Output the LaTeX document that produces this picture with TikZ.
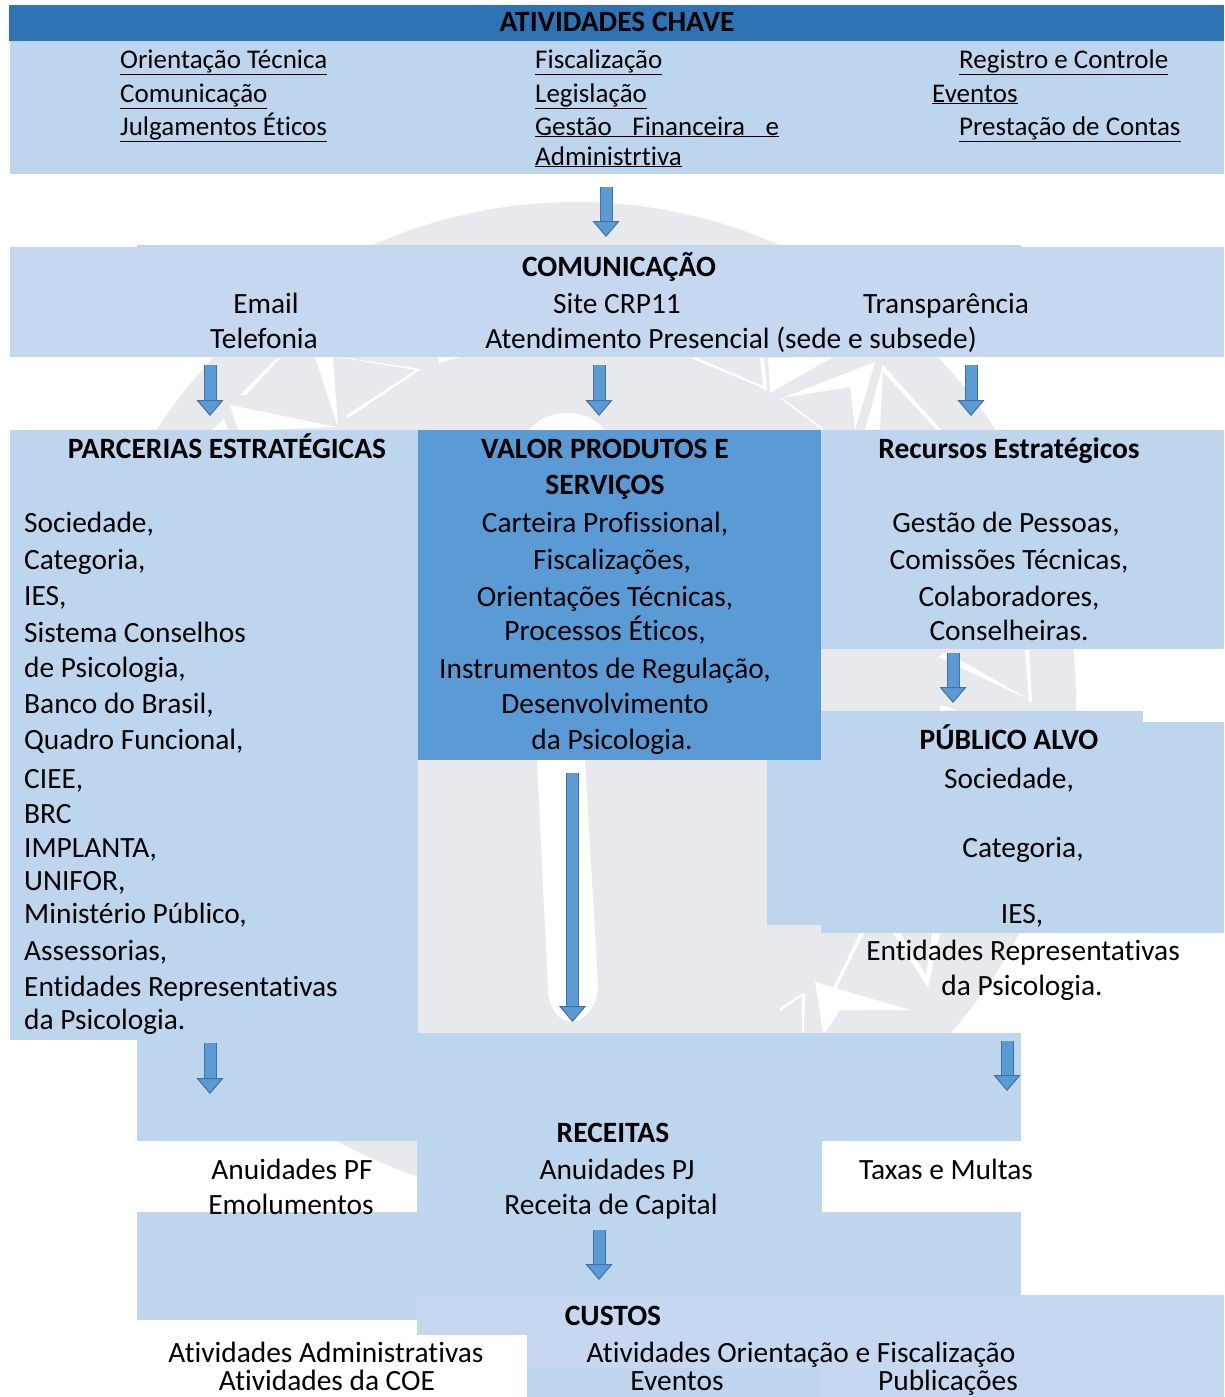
\documentclass[tikz,border=0pt]{standalone}
\usepackage{fontspec}
\setmainfont[Ligatures=NoCommon]{Carlito}
\usetikzlibrary{arrows.meta}
\definecolor{headblue}{HTML}{2E74B5}
\definecolor{paleblue}{HTML}{BDD6EE}
\definecolor{softblue}{HTML}{C5D8F0}
\definecolor{midblue}{HTML}{5B9BD5}
\definecolor{edgeblue}{HTML}{41719C}
\definecolor{markgray}{HTML}{E7E9ED}
\tikzset{
    txt/.style={anchor=base west, inner sep=0pt, font=\fontsize{29.4}{33}\selectfont},
    mid/.style={anchor=base, inner sep=0pt, font=\fontsize{29.4}{33}\selectfont},
    ttl/.style={anchor=base, inner sep=0pt, font=\fontsize{29.5}{33}\selectfont\bfseries},
    lst/.style={anchor=base west, inner sep=0pt, font=\fontsize{27}{31}\selectfont},
    flow/.style={draw=edgeblue, line width=1pt, double=midblue, double distance=11pt, -{Triangle[width=27pt, length=16pt, fill=midblue, line width=1pt]}},
    gap/.style={fill=white, draw=none}
}
\begin{document}
\begin{tikzpicture}[x=1pt, y=-1pt]
    \useasboundingbox (0,0) rectangle (1224,1397);
    \fill[markgray] (576,702) circle (500);
    \fill[gap] (240,395) -- (277,358) -- (280,358) -- (246,395) -- cycle;
    \fill[gap] (230,405) -- (337,427) -- (260,430) -- (238,430) -- cycle;
    \fill[gap] (315,357) -- (333,357) -- (338,427) -- cycle;
    \fill[gap] (347,415) -- (416,370) -- (337,357) -- (339,357) -- (421,369) -- (348,418) -- cycle;
    \fill[gap] (438,357) -- (439,363) -- (460,357) -- cycle;
    \fill[gap] (212,430) -- (224,419) -- (228,430) -- cycle;
    \fill[gap] (695,357) -- (763,386) -- (760,358) -- (764,358) -- (767,390) -- (691,358) -- cycle;
    \fill[gap] (790,357) -- (792,360) -- (806,357) -- cycle;
    \fill[gap] (770,393) -- (768,358) -- (833,357) -- cycle;
    \fill[gap] (782,398) -- (875,362) -- (855,430) -- (850,387) -- cycle;
    \fill[gap] (782,398) -- (825,430) -- (822,430) -- (780,398) -- cycle;
    \fill[gap] (883,365) -- (880,430) -- (865,430) -- cycle;
    \fill[gap] (883,365) -- (941,430) -- (937,430) -- (881,370) -- cycle;
    \fill[gap] (567,450) ellipse (45 and 37);
    \fill[gap] (537,760) -- (585,760) -- (598,985) .. controls (598,1010) and (580,1022) .. (572,1022) .. controls (560,1022) and (549,1010) .. (548,990) -- cycle;
    \fill[gap] (938,657) -- (946,652) -- (1030,700) -- cycle;
    \fill[gap] (1025,650) -- (1029,650) -- (1032,702) -- (1029,702) -- cycle;
    \fill[gap] (940,705) -- (957,710) -- (940,711) -- cycle;
    \fill[gap] (823,1009) -- (860,933) -- (864,933) -- (826,1009) -- cycle;
    \fill[gap] (815,982) -- (910,1010) -- (840,1010) -- (825,1033) -- (823,1033) -- cycle;
    \fill[gap] (780,1008) -- (805,992) -- (804,1033) -- (802,1033) -- (802,996) -- (780,1011) -- cycle;
    \fill[gap] (893,933) -- (928,988) -- (940,933) -- (932,933) -- (926,975) -- (900,933) -- cycle;
    \fill[paleblue] (10,41) rectangle (1224,174);
    \fill[headblue] (9,5) rectangle (1224,41);
    \fill[paleblue] (137,245) rectangle (1021,248);
    \fill[softblue] (10,247) rectangle (1224,357);
    \fill[paleblue] (10,430) rectangle (418,1040);
    \fill[paleblue] (821,430) rectangle (1224,649);
    \fill[paleblue] (767,760) rectangle (821,925);
    \fill[paleblue] (821,711) rectangle (1143,722);
    \fill[paleblue] (821,722) rectangle (1224,933);
    \fill[midblue] (418,430) rectangle (821,760);
    \fill[paleblue] (137,1033) rectangle (1021,1141);
    \fill[paleblue] (417,1141) rectangle (822,1212);
    \fill[paleblue] (137,1212) rectangle (1021,1320);
    \fill[softblue] (417,1295) rectangle (1224,1335);
    \fill[softblue] (527,1335) rectangle (1224,1397);
    \fill[paleblue] (527,1368) rectangle (820,1397);
    \node[ttl] (atv) at (617,32) {ATIVIDADES CHAVE};
    \node[lst] (ori) at (120,68) {\underline{Orientação Técnica}};
    \node[lst] (com) at (120,102) {\underline{Comunicação}};
    \node[lst] (jul) at (120,135) {\underline{Julgamentos Éticos}};
    \node[lst] (fis) at (535,68) {\underline{Fiscalização}};
    \node[lst] (leg) at (535,102) {\underline{Legislação}};
    \node[lst] (ges) at (535,135) {\underline{\makebox[244pt][s]{Gestão\hfill Financeira\hfill e}}};
    \node[lst] (adm) at (535,165) {\underline{Administrtiva}};
    \node[lst] (reg) at (959,68) {\underline{Registro e Controle}};
    \node[lst] (evt) at (932,102) {\underline{Eventos}};
    \node[lst] (pre) at (959,135) {\underline{Prestação de Contas}};
    \node[ttl] (cmn) at (619,276) {COMUNICAÇÃO};
    \node[mid] (eml) at (266,313) {Email};
    \node[mid] (sit) at (617,313) {Site CRP11};
    \node[mid] (tra) at (946,313) {Transparência};
    \node[mid] (tel) at (264,348) {Telefonia};
    \node[mid] (ate) at (731,348) {Atendimento Presencial (sede e subsede)};
    \node[ttl] (par) at (227,458) {PARCERIAS ESTRATÉGICAS};
    \node[txt] (soc) at (24,532) {Sociedade,};
    \node[txt] (cat) at (24,569) {Categoria,};
    \node[txt] (ies) at (24,605) {IES,};
    \node[txt] (sis) at (24,642) {Sistema Conselhos};
    \node[txt] (dep) at (24,677) {de Psicologia,};
    \node[txt] (ban) at (24,713) {Banco do Brasil,};
    \node[txt] (qua) at (24,749) {Quadro Funcional,};
    \node[txt] (cie) at (24,788) {CIEE,};
    \node[txt] (brc) at (24,823) {BRC};
    \node[txt] (imp) at (24,857) {IMPLANTA,};
    \node[txt] (uni) at (24,890) {UNIFOR,};
    \node[txt] (min) at (24,923) {Ministério Público,};
    \node[txt] (ass) at (24,960) {Assessorias,};
    \node[txt] (ent) at (24,996) {Entidades Representativas};
    \node[txt] (dap) at (24,1029) {da Psicologia.};
    \node[ttl] (val) at (605,458) {VALOR PRODUTOS E};
    \node[ttl] (ser) at (605,494) {SERVIÇOS};
    \node[mid] (car) at (605,532) {Carteira Profissional,};
    \node[mid] (fic) at (612,569) {Fiscalizações,};
    \node[mid] (ort) at (605,606) {Orientações Técnicas,};
    \node[mid] (pro) at (605,640) {Processos Éticos,};
    \node[mid] (ins) at (605,678) {Instrumentos de Regulação,};
    \node[mid] (des) at (605,713) {Desenvolvimento};
    \node[mid] (dav) at (612,749) {da Psicologia.};
    \node[ttl] (rec) at (1009,458) {Recursos Estratégicos};
    \node[mid] (gpe) at (1006,532) {Gestão de Pessoas,};
    \node[mid] (cte) at (1009,569) {Comissões Técnicas,};
    \node[mid] (col) at (1009,606) {Colaboradores,};
    \node[mid] (cns) at (1009,640) {Conselheiras.};
    \node[ttl] (pub) at (1009,749) {PÚBLICO ALVO};
    \node[mid] (psc) at (1009,788) {Sociedade,};
    \node[mid] (pca) at (1023,857) {Categoria,};
    \node[mid] (pie) at (1022,923) {IES,};
    \node[mid] (pen) at (1023,960) {Entidades Representativas};
    \node[mid] (pda) at (1022,995) {da Psicologia.};
    \node[ttl] (rct) at (613,1142) {RECEITAS};
    \node[mid] (apf) at (292,1179) {Anuidades PF};
    \node[mid] (apj) at (617,1179) {Anuidades PJ};
    \node[mid] (tax) at (946,1179) {Taxas e Multas};
    \node[mid] (emo) at (291,1214) {Emolumentos};
    \node[mid] (cap) at (611,1214) {Receita de Capital};
    \node[ttl] (cus) at (613,1325) {CUSTOS};
    \node[mid] (aad) at (326,1362) {Atividades Administrativas};
    \node[mid] (aof) at (801,1362) {Atividades Orientação e Fiscalização};
    \node[mid] (coe) at (327,1390) {Atividades da COE};
    \node[mid] (eve) at (677,1390) {Eventos};
    \node[mid] (pbl) at (948,1390) {Publicações};
    \coordinate (a1) at (606,187);
    \coordinate (a2) at (606,237);
    \coordinate (b1) at (210,365);
    \coordinate (b2) at (210,416);
    \coordinate (c1) at (599,365);
    \coordinate (c2) at (599,416);
    \coordinate (d1) at (971,365);
    \coordinate (d2) at (971,416);
    \coordinate (e1) at (953,653);
    \coordinate (e2) at (953,703);
    \coordinate (f1) at (572.5,773);
    \coordinate (f2) at (572.5,1022);
    \coordinate (g1) at (210,1043);
    \coordinate (g2) at (210,1094);
    \coordinate (h1) at (1007,1041);
    \coordinate (h2) at (1007,1091);
    \coordinate (i1) at (599,1230);
    \coordinate (i2) at (599,1280);
    \draw[flow] (a1) -- (a2);
    \draw[flow] (b1) -- (b2);
    \draw[flow] (c1) -- (c2);
    \draw[flow] (d1) -- (d2);
    \draw[flow] (e1) -- (e2);
    \draw[flow] (f1) -- (f2);
    \draw[flow] (g1) -- (g2);
    \draw[flow] (h1) -- (h2);
    \draw[flow] (i1) -- (i2);
\end{tikzpicture}
\end{document}
